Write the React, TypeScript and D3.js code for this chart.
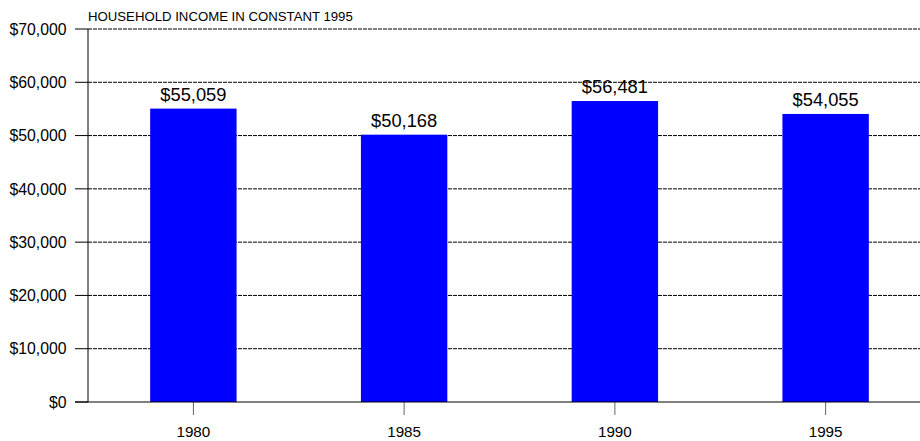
import React from "react";
import * as d3 from "d3";

const categories = ["1980", "1985", "1990", "1995"];
const values = [55059, 50168, 56481, 54055];
const yTicks = [0, 10000, 20000, 30000, 40000, 50000, 60000, 70000];
const title = "HOUSEHOLD INCOME IN CONSTANT 1995";

const W = 920;
const H = 441;
const left = 88;
const right = 931;
const top = 29;
const bottom = 402;

export default function App() {
  const x = d3.scaleBand<string>().domain(categories).range([left, right]).paddingInner(0.59).paddingOuter(0.295);
  const y = d3.scaleLinear().domain([0, 70000]).range([bottom, top]);
  const fmt = d3.format("$,");
  const font = "'Liberation Sans', Arial, sans-serif";
  return (
    <svg width={W} height={H} style={{ position: "absolute", left: 0, top: 0, display: "block" }} fontFamily={font}>
      <rect x={0} y={0} width={W} height={H} fill="#fff" />
      <text x={left} y={21} fontSize={13.2} fill="#000">{title}</text>
      {yTicks.map((t) => (
        <g key={t}>
          <line x1={75} x2={left} y1={y(t)} y2={y(t)} stroke="#000" strokeWidth={1} />
          {t > 0 && (
            <line x1={left} x2={W} y1={y(t)} y2={y(t)} stroke="#000" strokeWidth={1} strokeDasharray="4,1" />
          )}
          <text x={66.5} y={y(t)} dy="0.36em" textAnchor="end" fontSize={15.8} fill="#000">{fmt(t)}</text>
        </g>
      ))}
      <line x1={left} x2={left} y1={top} y2={bottom} stroke="#000" strokeWidth={1} />
      {categories.map((c, i) => (
        <g key={c}>
          <rect x={x(c)!} y={y(values[i])} width={x.bandwidth()} height={bottom - y(values[i])} fill="#0000ff" />
          <text x={x(c)! + x.bandwidth() / 2} y={y(values[i]) - 8} textAnchor="middle" fontSize={18.3} fill="#000">{fmt(values[i])}</text>
          <line x1={x(c)! + x.bandwidth() / 2} x2={x(c)! + x.bandwidth() / 2} y1={bottom} y2={bottom + 13} stroke="#666" strokeWidth={1} />
          <text x={x(c)! + x.bandwidth() / 2} y={437} textAnchor="middle" fontSize={15.2} fill="#000">{c}</text>
        </g>
      ))}
      <line x1={75} x2={W} y1={bottom} y2={bottom} stroke="#000" strokeWidth={1} />
    </svg>
  );
}
